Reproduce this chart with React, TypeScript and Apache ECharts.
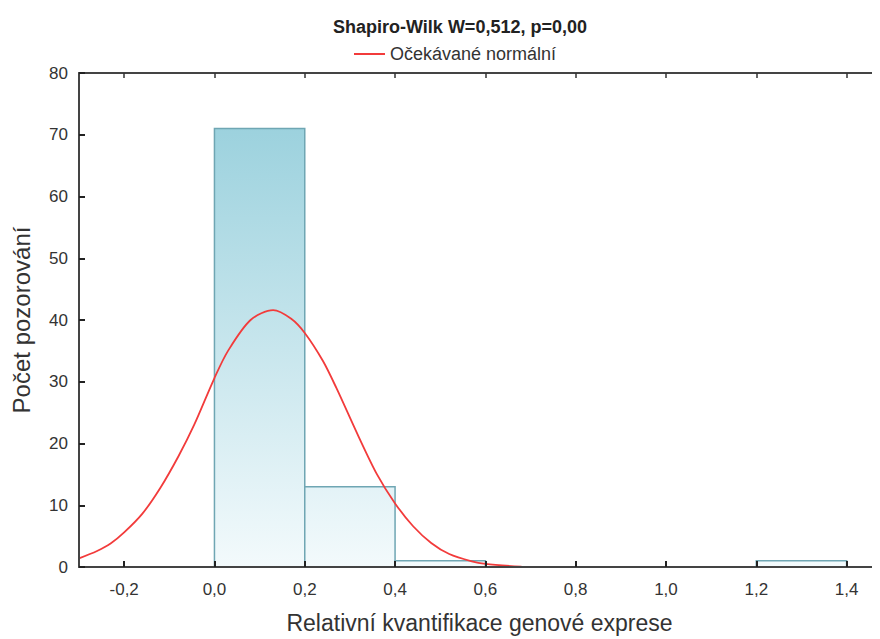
import React, { useEffect, useRef } from "react";
import * as echarts from "echarts";

const titleText = "Shapiro-Wilk W=0,512, p=0,00";
const seriesName = "Očekávané normální";
const xAxisName = "Relativní kvantifikace genové exprese";
const yAxisName = "Počet pozorování";

// Histogram bins
const binStart = [0.0, 0.2, 0.4, 1.2];
const binEnd = [0.2, 0.4, 0.6, 1.4];
const binCount = [71, 13, 1, 1];

// Expected normal curve
const curveX = [-0.3, -0.26, -0.23, -0.2, -0.16, -0.12, -0.08, -0.045, 0.0, 0.03, 0.08, 0.13, 0.17, 0.2, 0.24, 0.27, 0.32, 0.36, 0.4, 0.44, 0.48, 0.52, 0.57, 0.6, 0.68];
const curveY = [1.4, 2.6, 3.8, 5.6, 8.6, 12.8, 17.9, 23.0, 30.6, 35.0, 40.0, 41.6, 40.2, 37.9, 33.4, 29.0, 21.0, 15.0, 10.3, 6.6, 3.9, 2.1, 0.9, 0.5, 0.05];

const xTicks = [-0.2, 0.0, 0.2, 0.4, 0.6, 0.8, 1.0, 1.2, 1.4];

export default function App() {
  const ref = useRef<HTMLDivElement>(null);
  useEffect(() => {
    if (!ref.current) return;
    const chart = echarts.init(ref.current, null, { renderer: "svg" });
    const font = "'Liberation Sans', Arial, sans-serif";
    const axisColor = "#444";
    const histData = binStart.map((s, i) => [s, binEnd[i], binCount[i]]);
    const curveData = curveX.map((x, i) => [x, curveY[i]]);
    const tickLine = { color: "#222", width: 2 };
    chart.setOption({
      animation: false,
      backgroundColor: "#fff",
      textStyle: { fontFamily: font },
      title: {
        text: titleText,
        left: 455,
        textAlign: "center",
        top: 13,
        textStyle: { fontSize: 18, fontWeight: "bold", color: "#222", fontFamily: font },
      },
      legend: {
        data: [seriesName],
        left: 349,
        top: 40,
        icon: "rect",
        itemWidth: 31,
        itemHeight: 2,
        itemGap: 6,
        textStyle: { fontSize: 18, color: "#333", fontFamily: font },
      },
      grid: { left: 79, right: 0, top: 73, bottom: 70 },
      xAxis: [
        {
          type: "value",
          min: -0.3,
          max: 1.474,
          name: xAxisName,
          nameLocation: "middle",
          nameGap: 44,
          nameTextStyle: { fontSize: 23, color: "#333", fontFamily: font },
          axisLine: { show: true, onZero: false, lineStyle: { color: axisColor, width: 2 } },
          axisTick: { show: true, inside: true, length: 6, customValues: xTicks, lineStyle: tickLine },
          axisLabel: {
            customValues: xTicks,
            fontSize: 17,
            color: "#333",
            margin: 14,
            formatter: (v: number) => v.toFixed(1).replace(".", ","),
          },
          splitLine: { show: false },
          z: 10,
        },
        {
          type: "value",
          position: "top",
          min: -0.3,
          max: 1.474,
          axisLine: { show: true, onZero: false, lineStyle: { color: axisColor, width: 2 } },
          axisTick: { show: true, inside: true, length: 5, customValues: xTicks, lineStyle: { color: "#333", width: 1.5 } },
          axisLabel: { show: false, customValues: xTicks },
          splitLine: { show: false },
        },
      ],
      yAxis: {
        type: "value",
        min: 0,
        max: 80,
        interval: 10,
        name: yAxisName,
        nameLocation: "middle",
        nameGap: 46,
        nameTextStyle: { fontSize: 24, color: "#333", fontFamily: font },
        axisLine: { show: true, onZero: false, lineStyle: { color: axisColor, width: 2 } },
        axisTick: { show: true, inside: true, length: 6, lineStyle: tickLine },
        axisLabel: { fontSize: 17, color: "#333", margin: 11 },
        splitLine: { show: false },
        z: 10,
      },
      series: [
        {
          type: "custom",
          name: "hist",
          xAxisIndex: 0,
          yAxisIndex: 0,
          data: histData,
          encode: { x: [0, 1], y: 2 },
          renderItem: (params: any, api: any) => {
            const p0 = api.coord([api.value(0), api.value(2)]);
            const p1 = api.coord([api.value(1), 0]);
            const yTop = api.coord([0, 80])[1];
            const yBot = api.coord([0, 0])[1];
            return {
              type: "rect",
              shape: { x: p0[0], y: p0[1], width: p1[0] - p0[0], height: p1[1] - p0[1] },
              style: {
                fill: new echarts.graphic.LinearGradient(0, yTop, 0, yBot, [
                  { offset: 0, color: "#8ec8d7" },
                  { offset: 0.12, color: "#9dd2de" },
                  { offset: 1, color: "#f3fafc" },
                ], true),
                stroke: "#6fa6b3",
                lineWidth: 1.5,
              },
            };
          },
          z: 2,
        },
        {
          type: "line",
          name: seriesName,
          data: curveData,
          smooth: 0.3,
          symbol: "none",
          lineStyle: { color: "#f23b3b", width: 1.8 },
          itemStyle: { color: "#f23b3b" },
          z: 3,
        },
      ],
    });
    return () => chart.dispose();
  }, []);
  return <div ref={ref} style={{ width: 880, height: 639, marginLeft: -8, marginTop: -8 }} />;
}
